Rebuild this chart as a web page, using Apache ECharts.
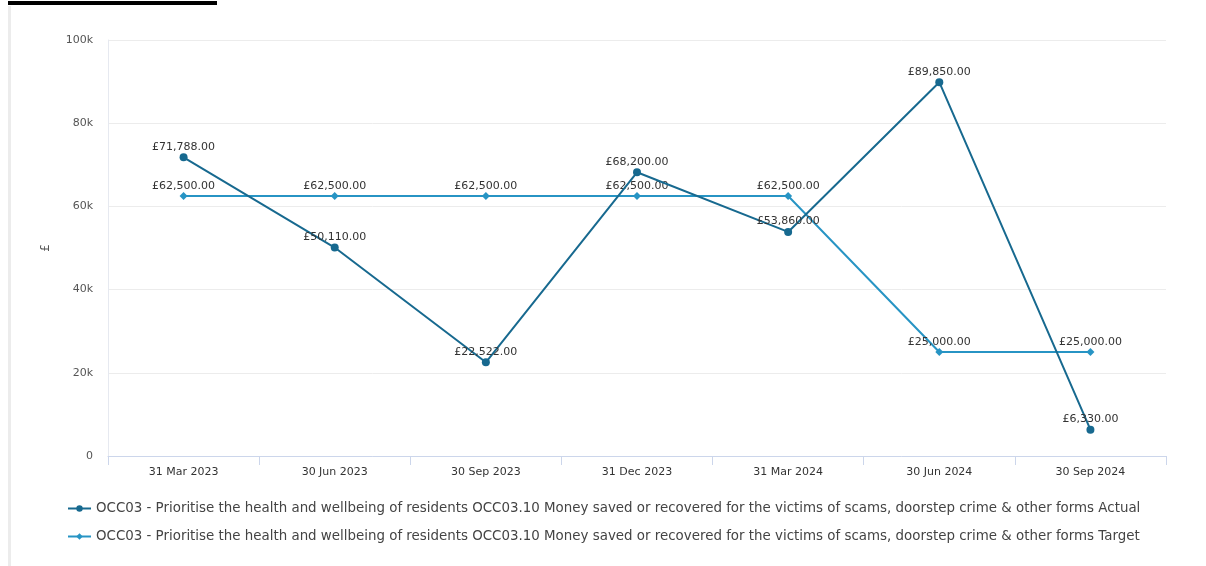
<!DOCTYPE html>
<html>
<head>
<meta charset="utf-8">
<script src="https://cdn.jsdelivr.net/npm/echarts@6/dist/echarts.min.js"></script>
<style>
  html, body { margin: 0; padding: 0; background: #fff; }
  #chart { width: 1206px; height: 566px; }
</style>
</head>
<body>
<div id="chart"></div>
<script>
// Quarter-end reporting dates
const categories = ['31 Mar 2023', '30 Jun 2023', '30 Sep 2023', '31 Dec 2023', '31 Mar 2024', '30 Jun 2024', '30 Sep 2024'];
// Money saved or recovered (£)
const actualValues = [71788, 50110, 22522, 68200, 53860, 89850, 6330];
const targetValues = [62500, 62500, 62500, 62500, 62500, 25000, 25000];
const yTicks = { min: 0, max: 100000, interval: 20000 };

const seriesBase = 'OCC03 - Prioritise the health and wellbeing of residents OCC03.10 Money saved or recovered for the victims of scams, doorstep crime & other forms';
const actualName = seriesBase + ' Actual';
const targetName = seriesBase + ' Target';

const FONT = 'DejaVu Sans';
const actualColor = '#17698f';
const targetColor = '#2794c4';

function money(v) {
  return '£' + Number(v).toLocaleString('en-GB', { minimumFractionDigits: 2, maximumFractionDigits: 2 });
}

const chart = echarts.init(document.getElementById('chart'), null, { renderer: 'canvas' });

chart.setOption({
  animation: false,
  backgroundColor: '#fff',
  textStyle: { fontFamily: FONT },
  graphic: [
    { type: 'rect', shape: { x: 8, y: 1, width: 209, height: 4 }, style: { fill: '#000' } },
    { type: 'rect', shape: { x: 8, y: 6, width: 3, height: 560 }, style: { fill: '#ececec' } }
  ],
  grid: { left: 108, right: 40, top: 40, bottom: 110, containLabel: false },
  legend: {
    orient: 'vertical',
    left: 62,
    top: 497,
    itemGap: 15,
    itemWidth: 23,
    itemHeight: 8,
    textStyle: { fontFamily: FONT, fontSize: 13.4, color: '#444' },
    data: [actualName, targetName]
  },
  xAxis: {
    type: 'category',
    data: categories,
    boundaryGap: true,
    axisLine: { show: true, lineStyle: { color: '#ccd6eb', width: 1 } },
    axisTick: { show: true, length: 9, lineStyle: { color: '#ccd6eb' } },
    axisLabel: { fontFamily: FONT, fontSize: 11, color: '#333', margin: 11 },
    splitLine: { show: false }
  },
  yAxis: {
    type: 'value',
    min: yTicks.min,
    max: yTicks.max,
    interval: yTicks.interval,
    name: '£',
    nameLocation: 'middle',
    nameRotate: 90,
    nameGap: 56,
    nameTextStyle: { fontFamily: FONT, fontSize: 12, color: '#555' },
    axisLine: { show: true, lineStyle: { color: '#e6e9f0' } },
    axisTick: { show: false },
    axisLabel: {
      fontFamily: FONT, fontSize: 11, color: '#555', margin: 15,
      formatter: v => v === 0 ? '0' : (v / 1000) + 'k'
    },
    splitLine: { show: true, lineStyle: { color: '#ececec', width: 1 } }
  },
  series: [
    {
      name: actualName,
      type: 'line',
      data: actualValues,
      symbol: 'circle',
      symbolSize: 8,
      color: actualColor,
      lineStyle: { width: 2, color: actualColor },
      itemStyle: { color: actualColor },
      label: {
        show: true, position: 'top', distance: 1,
        fontFamily: FONT, fontSize: 11, color: '#333',
        formatter: p => money(p.value)
      },
      z: 3
    },
    {
      name: targetName,
      type: 'line',
      data: targetValues,
      symbol: 'diamond',
      symbolSize: 8,
      color: targetColor,
      lineStyle: { width: 2, color: targetColor },
      itemStyle: { color: targetColor },
      label: {
        show: true, position: 'top', distance: 0,
        fontFamily: FONT, fontSize: 11, color: '#333',
        formatter: p => money(p.value)
      },
      z: 2
    }
  ]
});
</script>
</body>
</html>
